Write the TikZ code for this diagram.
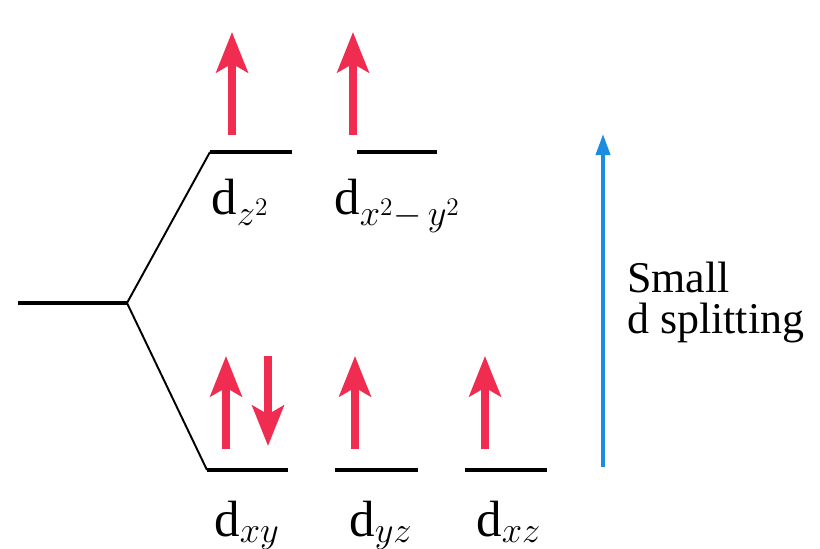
\documentclass[tikz,border=0pt]{standalone}
\usepackage{fontspec}
\setmainfont{Liberation Serif}
\usetikzlibrary{positioning,arrows.meta}
\definecolor{SpinRed}{RGB}{240,45,80}
\definecolor{GapBlue}{RGB}{28,140,222}
\tikzset{
  level/.style={draw=black,line width=2.3pt},
  branch/.style={draw=black,line width=1.1pt},
  spin/.style={draw=SpinRed,line width=4pt,-{Stealth[width=18pt,length=23pt,inset=5pt]}},
  gap/.style={draw=GapBlue,line width=2.2pt,-{Triangle[width=8pt,length=12pt]}},
  orb/.style={anchor=base west,inner sep=0pt,font=\fontsize{29}{31}\selectfont},
  note/.style={anchor=north west,inner sep=0pt,align=left,font=\fontsize{25}{23}\selectfont},
}

\begin{document}
\begin{tikzpicture}[x=0.02cm,y=-0.02cm]
\useasboundingbox (0,0) rectangle (820,548);
% free ion level and the fork
\coordinate (f1) at (18,303);
\coordinate (f2) at (127,303);
\coordinate (u1) at (210,152);
\coordinate (u2) at (292,152);
\coordinate (u3) at (357,152);
\coordinate (u4) at (437,152);
\coordinate (l1) at (207,470);
\coordinate (l2) at (288,470);
\coordinate (l3) at (335,470);
\coordinate (l4) at (418,470);
\coordinate (l5) at (465,470);
\coordinate (l6) at (547,470);
\draw[level] (f1) -- (f2);
\draw[branch] (f2) -- (u1);
\draw[branch] (f2) -- (l1);
\draw[level] (u1) -- (u2);
\draw[level] (u3) -- (u4);
\draw[level] (l1) -- (l2);
\draw[level] (l3) -- (l4);
\draw[level] (l5) -- (l6);
% electrons
\coordinate (a1) at (232,135);
\coordinate (b1) at (232,32);
\coordinate (a2) at (353,135);
\coordinate (b2) at (353,32);
\coordinate (a3) at (226,449);
\coordinate (b3) at (226,356);
\coordinate (a4) at (268,356);
\coordinate (b4) at (268,446);
\coordinate (a5) at (355,449);
\coordinate (b5) at (355,356);
\coordinate (a6) at (485,449);
\coordinate (b6) at (485,356);
\draw[spin] (a1) -- (b1);
\draw[spin] (a2) -- (b2);
\draw[spin] (a3) -- (b3);
\draw[spin] (a4) -- (b4);
\draw[spin] (a5) -- (b5);
\draw[spin] (a6) -- (b6);
% orbital labels
\node[orb] (dz) at (211,214) {d$_{z^2}$};
\node[orb] (dxx) at (334,214) {d$_{x^2-\,y^2}$};
\node[orb] (dxy) at (214,536) {d$_{xy}$};
\node[orb] (dyz) at (349,536) {d$_{yz}$};
\node[orb] (dxz) at (476,536) {d$_{xz}$};
% splitting
\coordinate (g1) at (603,467);
\coordinate (g2) at (603,134);
\draw[gap] (g1) -- (g2);
\node[note] (split) at (627,262) {Small\\d splitting};
\end{tikzpicture}
\end{document}
